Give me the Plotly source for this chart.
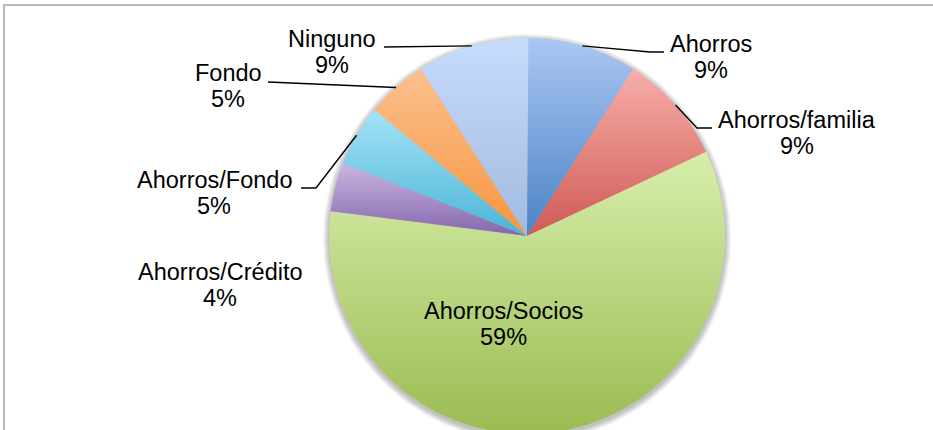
import numpy as np
import plotly.graph_objects as go

# slices, clockwise from 12 o'clock
labels = ["Ahorros", "Ahorros/familia", "Ahorros/Socios", "Ahorros/Crédito",
          "Ahorros/Fondo", "Fondo", "Ninguno"]
values = [9, 9, 59, 4, 5, 5, 9]

# gradient colours (top -> bottom of each slice)
top_colors = ["#abc7f2", "#f8aea9", "#d7eeab", "#c9b8e2", "#a5e3f7", "#fcc08f", "#c6dcfd"]
bottom_colors = ["#4a82c6", "#d05a55", "#9bbb52", "#8566ad", "#4ab5d6", "#f6953f", "#a2bade"]

# geometry in pixels (axes are set up 1:1 with the page)
W, H = 933, 430
CX, CY, R = 527, 236, 198

# label block centres and leader line bends (pixels)
label_pos = {
	"Ahorros": (711, 57),
	"Ahorros/familia": (797, 133),
	"Ahorros/Socios": (503, 324),
	"Ahorros/Crédito": (220, 285),
	"Ahorros/Fondo": (214, 193),
	"Fondo": (228, 86),
	"Ninguno": (332, 52),
}
leaders = {
	"Ahorros": [(650, 52), (664, 52)],
	"Ahorros/familia": [(697, 128), (712, 128)],
	"Ahorros/Fondo": [(316, 188), (301, 188)],
	"Fondo": [(268, 82)],
	"Ninguno": [(384, 47)],
}

def point(deg, r=R):
	t = np.radians(deg)
	return CX + r*np.sin(t), CY - r*np.cos(t)

fig = go.Figure()

# soft shadow behind the pie
ring = np.linspace(0, 360, 361)
for k in [6, 5, 4, 3, 2, 1]:
	sx, sy = point(ring, R + k)
	fig.add_trace(go.Scatter(x=sx, y=sy + 2, mode="lines", fill="toself",
		fillcolor="rgba(0,0,0,0.045)", line=dict(width=0), hoverinfo="skip"))

total = float(sum(values))
acc = 0
mids = []
for lab, v, ct, cb in zip(labels, values, top_colors, bottom_colors):
	a0 = acc/total*360
	a1 = (acc + v)/total*360
	acc += v
	mids.append((a0 + a1)/2)
	ang = np.linspace(a0, min(a1 + 0.4, 360.4), max(int((a1 - a0)*2), 8))
	px, py = point(ang)
	xs = np.concatenate([[CX], px, [CX]])
	ys = np.concatenate([[CY], py, [CY]])
	fig.add_trace(go.Scatter(x=xs, y=ys, mode="lines", fill="toself",
		line=dict(width=0), hoverinfo="skip",
		fillgradient=dict(type="vertical", start=float(ys.min()), stop=float(ys.max()),
			colorscale=[[0, ct], [1, cb]])))

font = dict(family="Liberation Sans, Arial, sans-serif", size=23.5, color="black")
for lab, v, m in zip(labels, values, mids):
	lx, ly = label_pos[lab]
	pct = "{:.0f}%".format(v/total*100)
	fig.add_annotation(x=lx, y=ly - 13, text=lab, showarrow=False, font=font,
		xanchor="center", yanchor="middle")
	fig.add_annotation(x=lx, y=ly + 13, text=pct, showarrow=False, font=font,
		xanchor="center", yanchor="middle")
	if lab in leaders:
		ex, ey = point(m)
		pts = [(ex, ey)] + leaders[lab]
		fig.add_trace(go.Scatter(x=[p[0] for p in pts], y=[p[1] for p in pts],
			mode="lines", line=dict(color="black", width=1.4), hoverinfo="skip"))

# chart frame (runs off the right and bottom of the picture)
fig.add_shape(type="rect", x0=4, y0=5, x1=W + 40, y1=H + 40,
	line=dict(color="#a3a3a3", width=1.5), layer="below")

fig.update_layout(
	width=W, height=H,
	margin=dict(l=0, r=0, t=0, b=0),
	paper_bgcolor="white", plot_bgcolor="white",
	showlegend=False,
	xaxis=dict(range=[0, W], visible=False, fixedrange=True),
	yaxis=dict(range=[H, 0], visible=False, fixedrange=True),
)

# drop the page's default body margin so the chart sits at the window corner
fig.write_html("out.html", config={"displayModeBar": False},
	post_script="document.body.style.margin='0';document.body.style.overflow='hidden';")
